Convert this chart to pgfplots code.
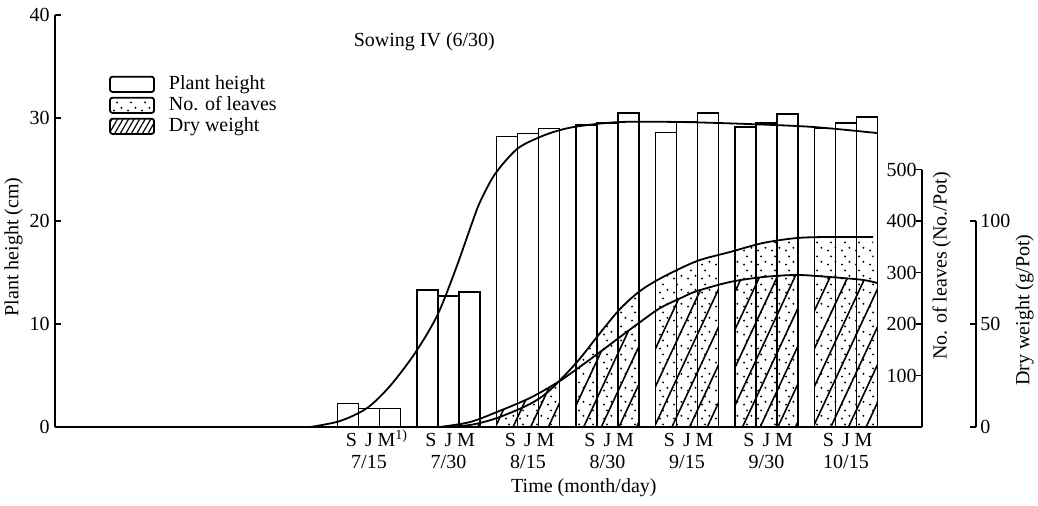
\documentclass[border=0pt]{standalone}
\usepackage{fontspec}
\setmainfont{Liberation Serif}
\usepackage{pgfplots}
\pgfplotsset{compat=1.18}
\usepackage{pgfplotstable}
\usepgfplotslibrary{fillbetween}
\usetikzlibrary{patterns.meta}

\tikzdeclarepattern{
  name=sdots,
  type=uncolored,
  bottom left={(-1pt,-1pt)},
  top right={(8pt,8pt)},
  tile size={(7pt,7pt)},
  code={
    \fill (1pt,1.2pt) circle (0.55pt);
    \fill (4.7pt,2.6pt) circle (0.55pt);
    \fill (2.5pt,5.3pt) circle (0.55pt);
  }
}

% plant height bars (cm): S, J, M per date
\pgfplotstableread{
x S J M
1 2.3 1.8 1.8
2 13.3 12.7 13.1
3 28.2 28.5 29.0
4 29.3 29.5 30.5
5 28.6 29.6 30.5
6 29.1 29.5 30.4
7 29.0 29.5 30.1
}\heights

% plant height curve (cm)
\pgfplotstableread{
x ph
0.258 0
0.635 0.58
0.975 1.84
1.264 3.98
1.579 7.18
1.855 10.78
2.082 15.15
2.296 19.81
2.396 21.84
2.585 24.56
2.862 26.99
3.151 28.16
3.403 28.83
3.654 29.22
4.157 29.61
4.912 29.61
5.755 29.42
6.585 29.13
7.390 28.54
}\phcurve

% number of leaves (No./Pot)
\pgfplotstableread{
x lv
1.893 0
2.270 3.9
2.610 17.5
3.025 44.7
3.277 71.8
3.616 126.2
3.906 182.5
4.157 229.1
4.409 264.1
4.698 291.3
5.126 322.3
5.541 339.8
5.956 357.3
6.384 367.0
6.799 369.0
7.340 369.0
}\leaves

% dry weight (g/Pot)
\pgfplotstableread{
x dw
1.893 0
2.270 2.4
2.610 7.3
3.025 14.1
3.377 21.8
3.616 28.2
3.906 36.4
4.157 43.7
4.409 50.9
4.660 57.7
4.950 63.1
5.126 66.0
5.541 70.4
5.956 72.8
6.384 73.8
6.799 72.8
7.214 71.4
7.390 69.9
}\dry

\begin{document}
\begin{tikzpicture}[font=\fontsize{10}{12}\selectfont]
\pgfplotsset{
  basestyle/.style={scale only axis, at={(0,0)}, anchor=south west,
    xmin=-2.95,
    /pgf/number format/assume math mode=true,
    tick align=inside, major tick length=3pt,
    every tick/.style={black, line width=0.8pt},
    axis line style={line width=0.9pt},
    tick label style={font=\fontsize{10}{12}\selectfont},
  },
}
% ---------- No. of leaves ----------
\begin{axis}[basestyle, width=433.5pt, height=128.75pt, xmax=7.956, ymin=0, ymax=500,
  axis x line=none, axis y line*=right, ytick={100,200,300,400,500},
  yticklabel style={anchor=east, inner sep=0pt, xshift=-2.5pt},
  ylabel={No. of leaves (No./Pot)},
  every axis y label/.style={at={(rel axis cs:1,0.625)}, xshift=5pt, rotate=90, anchor=north, inner sep=0pt},
]
\addplot[draw=none, name path=lbase] coordinates {(1.893,0) (7.4,0)};
\addplot[smooth, line width=0.9pt, name path=lv] table[x=x,y=lv] {\leaves};
\addplot[pattern=sdots, draw=none] fill between[of=lv and lbase, soft clip={domain=1.604:2.396}];
\addplot[pattern=sdots, draw=none] fill between[of=lv and lbase, soft clip={domain=2.604:3.396}];
\addplot[pattern=sdots, draw=none] fill between[of=lv and lbase, soft clip={domain=3.604:4.396}];
\addplot[pattern=sdots, draw=none] fill between[of=lv and lbase, soft clip={domain=4.604:5.396}];
\addplot[pattern=sdots, draw=none] fill between[of=lv and lbase, soft clip={domain=5.604:6.396}];
\addplot[pattern=sdots, draw=none] fill between[of=lv and lbase, soft clip={domain=6.604:7.396}];
\end{axis}
% ---------- Dry weight ----------
\begin{axis}[basestyle, width=460.5pt, height=103pt, xmax=8.635, ymin=0, ymax=100,
  axis x line=none, axis y line*=right, ytick={0,50,100},
  yticklabel style={anchor=west, inner sep=0pt, xshift=2pt},
  ylabel={Dry weight (g/Pot)},
  every axis y label/.style={at={(rel axis cs:1,0.568)}, xshift=19.5pt, rotate=90, anchor=north, inner sep=0pt},
]
\addplot[draw=none, name path=dbase] coordinates {(1.893,0) (7.4,0)};
\addplot[smooth, line width=0.9pt, name path=dw] table[x=x,y=dw] {\dry};
\addplot[pattern={Lines[angle=65,distance=8pt,line width=0.8pt]}, draw=none] fill between[of=dw and dbase, soft clip={domain=1.604:2.396}];
\addplot[pattern={Lines[angle=65,distance=8pt,line width=0.8pt]}, draw=none] fill between[of=dw and dbase, soft clip={domain=2.604:3.396}];
\addplot[pattern={Lines[angle=65,distance=8pt,line width=0.8pt]}, draw=none] fill between[of=dw and dbase, soft clip={domain=3.604:4.396}];
\addplot[pattern={Lines[angle=65,distance=8pt,line width=0.8pt]}, draw=none] fill between[of=dw and dbase, soft clip={domain=4.604:5.396}];
\addplot[pattern={Lines[angle=65,distance=8pt,line width=0.8pt]}, draw=none] fill between[of=dw and dbase, soft clip={domain=5.604:6.396}];
\addplot[pattern={Lines[angle=65,distance=8pt,line width=0.8pt]}, draw=none] fill between[of=dw and dbase, soft clip={domain=6.604:7.396}];
\end{axis}
% ---------- Plant height (main) ----------
\begin{axis}[basestyle, name=main, width=433.5pt, height=206pt, xmax=7.956, ymin=0, ymax=40,
  axis x line*=bottom, axis y line*=left,
  ytick={0,10,20,30,40},
  yticklabel style={inner sep=0pt, xshift=-2.5pt},
  xtick={0.78,1,1.22,1.78,2,2.22,2.78,3,3.22,3.78,4,4.22,4.78,5,5.22,5.78,6,6.22,6.78,7,7.22},
  xticklabels={S,J,M\smash{\rlap{\textsuperscript{1)}}},S,J,M,S,J,M,S,J,M,S,J,M,S,J,M,S,J,M},
  x tick style={draw=none},
  xticklabel style={inner sep=0pt, anchor=north, yshift=-3pt},
  extra x ticks={1,2,3,4,5,6,7},
  extra x tick labels={7/15,7/30,8/15,8/30,9/15,9/30,10/15},
  extra x tick style={xticklabel style={yshift=-11pt}},
  xlabel={Time (month/day)},
  every axis x label/.style={at={(0.61,0)}, anchor=center, yshift=-30.5pt},
  ylabel={Plant height (cm)},
  every axis y label/.style={at={(0,0.437)}, xshift=-16pt, rotate=90, anchor=south, inner sep=0pt},
  title={Sowing IV (6/30)},
  every axis title/.style={at={(0.426,0.934)}, anchor=center},
  legend image code/.code={\draw[#1, line width=0.9pt, rounded corners=1.2pt] (0pt,-3.8pt) rectangle (22pt,3.8pt);},
  legend style={draw=none, fill=none, at={(0.062,0.858)}, anchor=north west, inner sep=0pt, row sep=0pt,
    nodes={inner sep=1pt}, font=\fontsize{10}{12}\selectfont,
    /tikz/every odd column/.append style={column sep=6pt}},
  legend cell align=left,
]
\addplot[ybar, bar width=10.5pt, bar shift=-10.5pt, draw=black, line width=0.8pt, fill=none, forget plot] table[x=x,y=S] {\heights};
\addplot[ybar, bar width=10.5pt, bar shift=0pt, draw=black, line width=0.8pt, fill=none, forget plot] table[x=x,y=J] {\heights};
\addplot[ybar, bar width=10.5pt, bar shift=10.5pt, draw=black, line width=0.8pt, fill=none, forget plot] table[x=x,y=M] {\heights};
\addplot[smooth, line width=0.9pt, forget plot] table[x=x,y=ph] {\phcurve};
\addlegendimage{draw=black, fill=white}
\addlegendentry{Plant height}
\addlegendimage{draw=black, pattern=sdots}
\addlegendentry{No. of leaves}
\addlegendimage{draw=black, pattern={Lines[angle=60,distance=2.4pt,line width=0.6pt]}}
\addlegendentry{Dry weight}
\end{axis}
\pgfresetboundingbox
\path[use as bounding box] (-27.5pt,-39pt) rectangle (491.5pt,213.5pt);
\end{tikzpicture}
\end{document}
